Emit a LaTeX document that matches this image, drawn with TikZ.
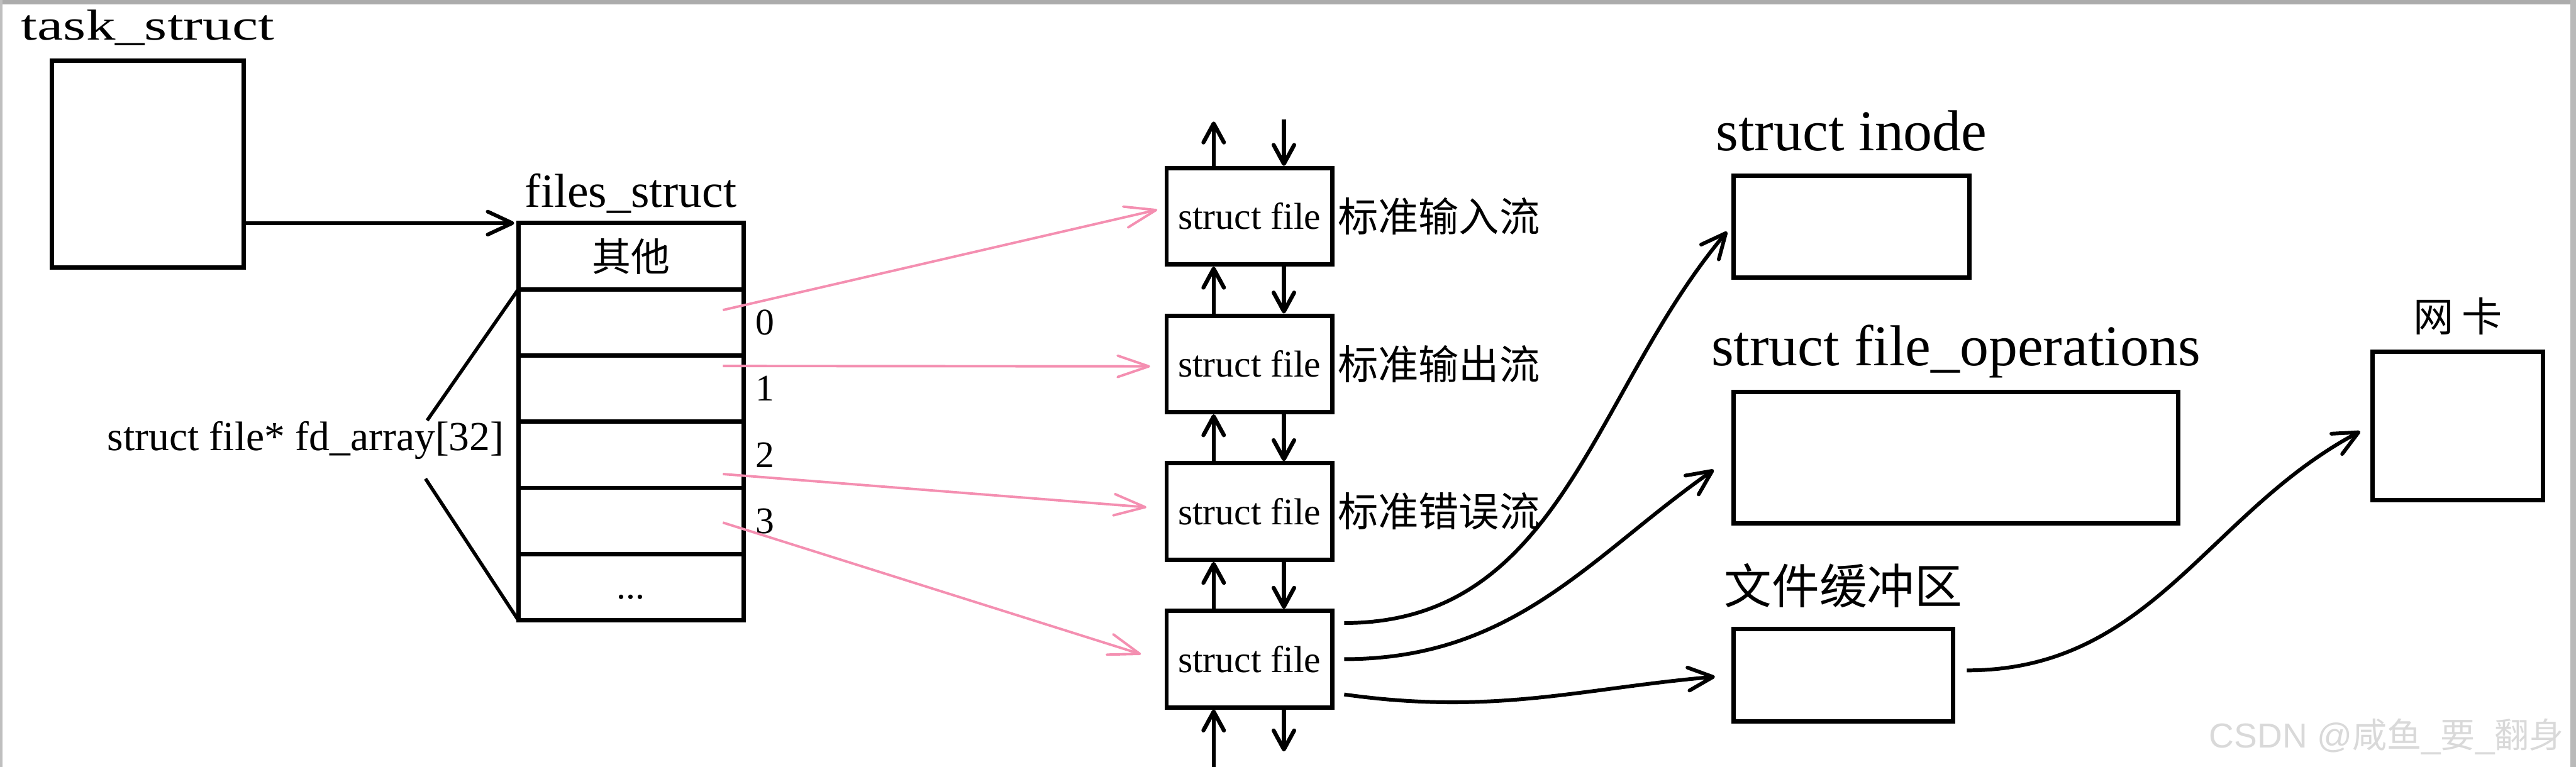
\documentclass[tikz,border=0pt]{standalone}
\usepackage{fontspec}
\setmainfont{Liberation Serif}
\newfontfamily\cjk{Noto Sans CJK SC}
\newfontfamily\widefont[FakeStretch=1.35]{Liberation Serif}
\newfontfamily\wmfont{Liberation Sans}
\usetikzlibrary{arrows.meta,calc,positioning}
\definecolor{pinkarr}{RGB}{244,143,177}
\newcommand{\fsz}[1]{\fontsize{#1}{#1}\selectfont}

\begin{document}
\begin{tikzpicture}[
  x=0.2mm, y=0.2mm,
  blk/.style   = {draw=black, line width=1.5pt, inner sep=0pt},
  fsrow/.style = {blk, outer sep=0pt, minimum width=27.4mm, minimum height=8.06mm},
  sfbox/.style = {blk, minimum width=20.15mm, minimum height=11.75mm, font=\fsz{13}},
  lbl/.style   = {inner sep=0pt},
  arr/.style   = {-{Straight Barb[length=3mm,width=2.8mm,round]}, line width=1.3pt},
  sarr/.style  = {-{Straight Barb[length=2.3mm,width=2.5mm,round]}, line width=1.4pt},
  parr/.style  = {-{Straight Barb[length=3.8mm,width=2.6mm,round]},
                  line width=0.85pt, draw=pinkarr},
]
\useasboundingbox (0,0) rectangle (1568,-467);
% screenshot frame
\fill[gray!65] (0,0) rectangle (1568,-2.5);
\fill[gray!50] (0,0) rectangle (1.4,-467);
\fill[gray!55] (1564.5,0) rectangle (1568,-467);

% task_struct
\node[blk, minimum width=23.4mm, minimum height=25.2mm] (task) at (90,-100) {};
\node[lbl, font=\widefont\fsz{15}, above=1.5mm of task] (tasklbl) {task\_struct};

% files_struct
\node[fsrow, font=\cjk\fsz{13.5}] (fs0) at (384,-156) {其他};
\foreach \i [count=\j from 0] in {1,...,4}
  \node[fsrow, below=0pt of fs\j] (fs\i) {};
\node[fsrow, below=0pt of fs4, font=\fsz{13}, text height=3.6mm, text depth=0.8mm] (fs5) {...};
\node[lbl, font=\fsz{16.5}, above=1.1mm of fs0] (fslbl) {files\_struct};
\foreach \i [count=\d from 0] in {1,...,4}
  \node[lbl, font=\fsz{13}, right=1.4mm of fs\i] (num\d) {\d};
\draw[arr, shorten >=0.5mm] (task.east |- fs0.north west) -- (fs0.north west);

% fd_array
\node[lbl, font=\fsz{14.3}, anchor=base west] (fdlbl) at (65,-274.4) {struct file* fd\_array[32]};
\coordinate (fdup) at (260,-256);
\coordinate (fdlo) at (259,-291.5);
\draw[line width=1.2pt] (fdup) -- (fs1.north west);
\draw[line width=1.2pt] (fdlo) -- (fs5.south west);

% struct file stack
\node[sfbox] (sf1) at (760.5,-131.7) {struct file};
\foreach \i [count=\j] in {2,3,4}
  \node[sfbox, below=5.7mm of sf\j] (sf\i) {struct file};
\foreach \i/\t in {1/标准输入流, 2/标准输出流, 3/标准错误流}
  \node[lbl, font=\cjk\fsz{14}, right=0.35mm of sf\i] (sflbl\i) {\t};

\coordinate[above=5.4mm of sf1] (sftop);
\coordinate[below=7mm of sf4] (sfbot);
\draw[sarr] ($(sf1.north)+(-4.35mm,0)$) -- ($(sftop)+(-4.35mm,0)$);
\draw[sarr] ($(sftop)+(4.2mm,0.25mm)$) -- ($(sf1.north)+(4.2mm,0)$);
\foreach \a/\b in {sf1/sf2,sf2/sf3,sf3/sf4} {
  \draw[sarr] ($(\b.north)+(-4.35mm,0)$) -- ($(\a.south)+(-4.35mm,0)$);
  \draw[sarr] ($(\a.south)+(4.2mm,0)$) -- ($(\b.north)+(4.2mm,0)$);
}
\draw[sarr] ($(sfbot)+(-4.35mm,0)$) -- ($(sf4.south)+(-4.35mm,0)$);
\draw[sarr, shorten >=1.9mm] ($(sf4.south)+(4.2mm,0)$) -- ($(sfbot)+(4.2mm,0)$);

% fd -> struct file
\foreach \r/\s/\dy/\ey/\sh in {fs1/sf1/1.5/1/0.9, fs2/sf2/2.75/-0.3/1.75,
                               fs3/sf3/-2.35/0.35/2.2, fs4/sf4/-0.2/-0.3/3}
  \draw[parr, shorten >=\sh mm] ($(\r.east)+(-2.5mm,\dy mm)$) -- ($(\s.west)+(0,\ey mm)$);

% inode, file_operations, buffer, nic
\node[blk, minimum width=28.75mm, minimum height=12.35mm] (inode) at (1127,-138) {};
\node[lbl, font=\fsz{20}, above=2.7mm of inode] (inodelbl) {struct inode};
\node[blk, minimum width=54.15mm, minimum height=16.03mm] (fops) at (1190.5,-278.6) {};
\node[lbl, font=\fsz{20}, above=1.35mm of fops] (fopslbl) {struct file\_operations};
\node[blk, minimum width=26.75mm, minimum height=11.23mm] (buf) at (1122,-411.2) {};
\node[lbl, font=\cjk\fsz{16.5}, above=2.3mm of buf] (buflbl) {文件缓冲区};
\node[blk, minimum width=20.75mm, minimum height=18.1mm] (nic) at (1496,-259.4) {};
\node[lbl, font=\cjk\fsz{14}, above=1.7mm of nic] (niclbl) {网\hspace{1mm}卡};

\draw[arr, shorten >=0.8mm] ($(sf4.east)+(1.2mm,4.4mm)$) to[out=0,in=230] (inode.west);
\draw[arr, shorten >=2.6mm] ($(sf4.east)+(1.2mm,0)$) to[out=0,in=215] (fops.west);
\draw[arr, shorten >=2mm] ($(sf4.east)+(1.2mm,-4.3mm)$) to[out=-8,in=185] (buf.west);
\draw[arr, shorten >=1.4mm] ($(buf.east)+(1.4mm,0.6mm)$) to[out=0,in=208] (nic.west);

% watermark
\node[lbl, anchor=base east, text=gray!30, font=\wmfont\fsz{12}] (wm) at (1561,-455.5)
  {CSDN @{\cjk 咸鱼}\_{\cjk 要}\_{\cjk 翻身}};
\end{tikzpicture}
\end{document}
